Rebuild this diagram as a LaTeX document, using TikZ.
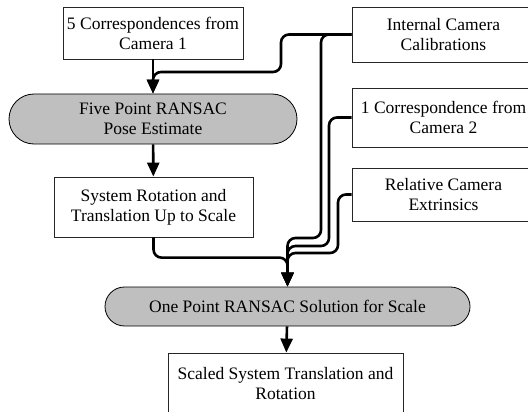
\documentclass[tikz,border=0pt]{standalone}
\usepackage{fontspec}
\setmainfont{Liberation Serif}
\usetikzlibrary{shapes.misc,arrows.meta}

\begin{document}
\begin{tikzpicture}[x=1pt,y=-1pt,
	box/.style={rectangle,draw=black!85,line width=0.8pt,align=center,inner sep=0pt,font=\fontsize{17.5}{20}\selectfont},
	pill/.style={rounded rectangle,draw=black,fill=gray!50,line width=0.8pt,align=center,inner sep=0pt,font=\fontsize{17.5}{20}\selectfont},
	flow/.style={line width=2.6pt,rounded corners=8pt,-{Triangle[length=14pt,width=12pt]}}]
	\useasboundingbox (0,0) rectangle (528,412);
	\node[box,minimum width=180,minimum height=52] (corr1) at (153,33) {5 Correspondences from\\Camera 1};
	\node[pill,minimum width=288,minimum height=50] (five) at (153,119) {Five Point RANSAC\\Pose Estimate};
	\node[box,minimum width=199,minimum height=60] (rot) at (153.5,207) {System Rotation and\\Translation Up to Scale};
	\node[box,minimum width=183,minimum height=55] (intcal) at (443.5,34.5) {Internal Camera\\Calibrations};
	\node[box,minimum width=183,minimum height=59] (corr2) at (443.5,117.5) {1 Correspondence from\\Camera 2};
	\node[box,minimum width=183,minimum height=53] (relext) at (443.5,194.5) {Relative Camera\\Extrinsics};
	\node[pill,minimum width=365,minimum height=39] (one) at (287.5,306.5) {One Point RANSAC Solution for Scale};
	\node[box,minimum width=235,minimum height=62] (scaled) at (285.5,384) {Scaled System Translation and\\Rotation};
	% upper chain
	\draw[flow](corr1)--(five);
	\draw[flow](intcal.west)-|(281,72)-|(five.north);
	\draw[flow](five)--(rot);
	% everything into the scale step
	\draw[flow](rot.south)|-([yshift=29pt]one.north)--(one.north);
	\draw[flow](intcal.west)-|(321,238)-|(one.north);
	\draw[flow](corr2.west)-|(329,246)-|(one.north);
	\draw[flow](relext.west)-|(338,253)-|(one.north);
	\draw[flow](one)--(scaled);
\end{tikzpicture}
\end{document}
